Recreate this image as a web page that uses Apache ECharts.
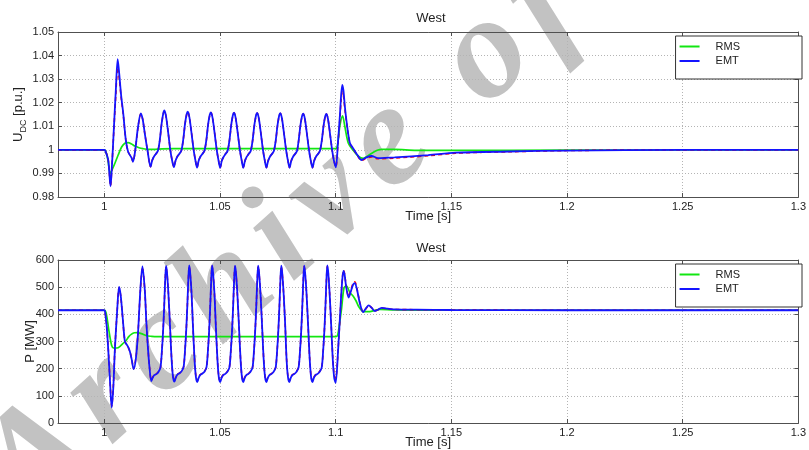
<!DOCTYPE html>
<html><head><meta charset="utf-8">
<script src="https://cdn.jsdelivr.net/npm/echarts@6/dist/echarts.min.js"></script>
<style>html,body{margin:0;padding:0;background:#fff}#c{width:809px;height:450px}</style>
</head><body><div id="c"></div>
<script>
// ---------- data ----------
const timeTicks = [1, 1.05, 1.1, 1.15, 1.2, 1.25, 1.3];
const udcTicksRange = [0.98, 1.05, 0.01];
const pTicksRange = [0, 600, 100];
const legendNames = ['RMS', 'EMT'];
const plotTitle = 'West';
const xName = 'Time [s]';
const watermarkText = 'Archive of SID';

// U_DC [p.u.], EMT (blue)
const udcEMT = [
[0.98,1.0],[1.0,1.0],[1.0004,0.9998],[1.0017,0.9957],[1.0027,0.9845],[1.0033,0.9930],[1.0039,1.0042],[1.0050,1.0255],[1.0058,1.0385],[1.0064,1.0330],[1.0073,1.0230],[1.0082,1.0155],[1.0093,1.0042],[1.0103,0.9992],[1.0118,0.9966],[1.0124,0.9949],[1.0132,0.9985],[1.0146,1.0098],[1.0158,1.0155],[1.0166,1.0130],[1.0175,1.0070],[1.0188,0.9990],[1.0200,0.9928],
[1.0207,0.9955],[1.0215,0.9972],[1.0224,0.9984],[1.0232,0.9996],[1.0240,1.0042],[1.0248,1.0112],[1.0255,1.0155],[1.0260,1.0167],[1.0267,1.0142],[1.0276,1.0075],[1.0285,1.0002],[1.0293,0.9956],[1.0301,0.9927],
[1.0308,0.9954],[1.0316,0.9972],[1.0325,0.9984],[1.0333,0.9996],[1.0341,1.0041],[1.0349,1.0110],[1.0356,1.0151],[1.0361,1.0162],[1.0368,1.0138],[1.0377,1.0072],[1.0386,1.0001],[1.0394,0.9955],[1.0401,0.9925],
[1.0408,0.9954],[1.0416,0.9972],[1.0425,0.9984],[1.0433,0.9996],[1.0441,1.0040],[1.0449,1.0109],[1.0456,1.0149],[1.0461,1.0159],[1.0468,1.0136],[1.0477,1.0071],[1.0486,1.0000],[1.0494,0.9954],[1.0501,0.9924],
[1.0508,0.9954],[1.0516,0.9971],[1.0525,0.9984],[1.0533,0.9995],[1.0541,1.0040],[1.0549,1.0108],[1.0556,1.0148],[1.0561,1.0158],[1.0568,1.0135],[1.0577,1.0070],[1.0586,1.0000],[1.0594,0.9954],[1.0601,0.9924],
[1.0608,0.9953],[1.0616,0.9971],[1.0625,0.9984],[1.0633,0.9995],[1.0641,1.0039],[1.0649,1.0107],[1.0656,1.0147],[1.0661,1.0157],[1.0668,1.0134],[1.0677,1.0069],[1.0686,0.9999],[1.0694,0.9953],[1.0701,0.9924],
[1.0708,0.9953],[1.0716,0.9971],[1.0725,0.9983],[1.0733,0.9995],[1.0741,1.0039],[1.0749,1.0106],[1.0756,1.0146],[1.0761,1.0156],[1.0768,1.0133],[1.0777,1.0068],[1.0786,0.9999],[1.0794,0.9953],[1.0801,0.9924],
[1.0808,0.9953],[1.0816,0.9971],[1.0825,0.9983],[1.0833,0.9995],[1.0840,1.0038],[1.0848,1.0105],[1.0855,1.0144],[1.0860,1.0154],[1.0867,1.0132],[1.0876,1.0067],[1.0885,0.9998],[1.0893,0.9952],[1.0900,0.9924],
[1.0907,0.9953],[1.0915,0.9971],[1.0924,0.9983],[1.0932,0.9995],[1.0940,1.0038],[1.0948,1.0104],[1.0955,1.0143],[1.0960,1.0153],[1.0967,1.0131],[1.0976,1.0066],[1.0985,0.9998],[1.0993,0.9952],[1.1001,0.9926],
[1.1010,1.0030],[1.1019,1.0155],[1.1024,1.0235],[1.1029,1.0276],[1.1034,1.0250],[1.1040,1.0183],[1.1052,1.0084],[1.1062,1.0028],[1.1076,1.0006],[1.1094,0.9978],[1.1112,0.9957],[1.1133,0.9968],[1.1155,0.9974],[1.1183,0.9965],[1.1255,0.9968],[1.1400,0.9978],[1.1520,0.9988],[1.1750,0.9993],[1.2000,0.9997],[1.2500,1.0000],[1.3000,1.0000]
];

// U_DC [p.u.], reference trace (red dashed)
const udcRef = [
[0.98,1.0],[1.0,1.0],[1.0004,0.9998],[1.0017,0.9958],[1.0027,0.9848],[1.0033,0.9930],[1.0039,1.0040],[1.0050,1.0235],[1.0058,1.0350],[1.0064,1.0310],[1.0073,1.0222],[1.0082,1.0150],[1.0093,1.0042],[1.0103,0.9993],[1.0118,0.9966],[1.0124,0.9950],[1.0132,0.9984],[1.0146,1.0095],[1.0158,1.0153],[1.0166,1.0130],[1.0175,1.0071],[1.0188,0.9991],[1.0200,0.9929],
[1.0207,0.9955],[1.0215,0.9973],[1.0224,0.9984],[1.0232,0.9996],[1.0240,1.0040],[1.0248,1.0110],[1.0255,1.0152],[1.0260,1.0165],[1.0267,1.0142],[1.0276,1.0076],[1.0285,1.0003],[1.0293,0.9957],[1.0301,0.9928],
[1.0308,0.9954],[1.0316,0.9972],[1.0325,0.9984],[1.0333,0.9996],[1.0341,1.0040],[1.0349,1.0108],[1.0356,1.0149],[1.0361,1.0161],[1.0368,1.0138],[1.0377,1.0073],[1.0386,1.0002],[1.0394,0.9956],[1.0401,0.9926],
[1.0408,0.9954],[1.0416,0.9972],[1.0425,0.9984],[1.0433,0.9996],[1.0441,1.0039],[1.0449,1.0107],[1.0456,1.0147],[1.0461,1.0158],[1.0468,1.0136],[1.0477,1.0072],[1.0486,1.0001],[1.0494,0.9955],[1.0501,0.9925],
[1.0508,0.9954],[1.0516,0.9971],[1.0525,0.9984],[1.0533,0.9995],[1.0541,1.0039],[1.0549,1.0106],[1.0556,1.0146],[1.0561,1.0157],[1.0568,1.0135],[1.0577,1.0071],[1.0586,1.0001],[1.0594,0.9955],[1.0601,0.9925],
[1.0608,0.9953],[1.0616,0.9971],[1.0625,0.9984],[1.0633,0.9995],[1.0641,1.0038],[1.0649,1.0105],[1.0656,1.0145],[1.0661,1.0156],[1.0668,1.0134],[1.0677,1.0070],[1.0686,1.0000],[1.0694,0.9954],[1.0701,0.9925],
[1.0708,0.9953],[1.0716,0.9971],[1.0725,0.9983],[1.0733,0.9995],[1.0741,1.0038],[1.0749,1.0104],[1.0756,1.0144],[1.0761,1.0155],[1.0768,1.0133],[1.0777,1.0069],[1.0786,1.0000],[1.0794,0.9954],[1.0801,0.9925],
[1.0808,0.9953],[1.0816,0.9971],[1.0825,0.9983],[1.0833,0.9995],[1.0840,1.0037],[1.0848,1.0103],[1.0855,1.0142],[1.0860,1.0153],[1.0867,1.0132],[1.0876,1.0068],[1.0885,0.9999],[1.0893,0.9953],[1.0900,0.9925],
[1.0907,0.9953],[1.0915,0.9971],[1.0924,0.9983],[1.0932,0.9995],[1.0940,1.0037],[1.0948,1.0102],[1.0955,1.0141],[1.0960,1.0152],[1.0967,1.0131],[1.0976,1.0067],[1.0985,0.9999],[1.0993,0.9953],[1.1001,0.9928],
[1.1010,1.0025],[1.1019,1.0140],[1.1024,1.0215],[1.1029,1.0245],[1.1034,1.0228],[1.1040,1.0172],[1.1052,1.0082],[1.1062,1.0027],[1.1076,1.0005],[1.1094,0.9976],[1.1112,0.9955],[1.1133,0.9965],[1.1155,0.9970],[1.1183,0.9962],[1.1255,0.9965],[1.1400,0.9975],[1.1520,0.9986],[1.1750,0.9992],[1.2000,0.9997],[1.2500,1.0000],[1.3000,1.0000]
];

// U_DC [p.u.], RMS (green)
const udcRMS = [
[0.98,1.0],[1.0,1.0],[1.0008,0.9990],[1.0017,0.9950],[1.0025,0.9900],[1.0035,0.9918],[1.0046,0.9943],[1.0060,0.9978],[1.0075,1.0012],[1.0089,1.0028],[1.0103,1.0031],[1.0118,1.0025],[1.0132,1.0016],[1.0150,1.0009],[1.0167,1.0005],[1.0190,1.0002],[1.0210,1.0002],[1.0250,1.0004],[1.0300,1.0005],[1.0500,1.0005],[1.0800,1.0005],[1.1000,1.0005],[1.1008,1.0020],[1.1018,1.0100],[1.1030,1.0144],[1.1040,1.0098],[1.1055,1.0028],[1.1076,0.9998],[1.1097,0.9974],[1.1119,0.9964],[1.1135,0.9972],[1.1155,0.9985],[1.1180,0.9998],[1.1200,1.0002],[1.1255,1.0002],[1.1350,0.9998],[1.1500,0.9998],[1.2000,0.9999],[1.3000,1.0000]
];

// P [MW], EMT (blue)
const pEMT = [
[0.98,415],[1.0,415],[1.0003,412],[1.0010,360],[1.0017,273],[1.0025,150],[1.0032,57],[1.0039,130],[1.0046,273],[1.0056,418],[1.0064,501],[1.0071,470],[1.0079,394],[1.0089,300],[1.0096,290],[1.0103,280],[1.0111,262],[1.0118,236],[1.0127,198],[1.0137,240],[1.0146,333],[1.0156,491],[1.0165,576],[1.0175,491],[1.0182,370],[1.0189,273],[1.0196,200],[1.0203,154],
[1.0209,166],[1.0216,176],[1.0225,180],[1.0234,188],[1.0243,205],[1.0249,265],[1.0254,335],[1.0259,430],[1.0263,520],[1.0267,578],[1.0271,555],[1.0277,480],[1.0284,360],[1.0291,235],[1.0297,170],[1.0303,152],
[1.0309,167],[1.0316,178],[1.0325,183],[1.0334,190],[1.0343,207],[1.0349,268],[1.0354,338],[1.0359,432],[1.0363,522],[1.0367,580],[1.0371,556],[1.0377,482],[1.0383,362],[1.0390,236],[1.0396,170],[1.0402,151],
[1.0408,166],[1.0415,177],[1.0424,182],[1.0433,189],[1.0442,206],[1.0448,266],[1.0453,336],[1.0458,431],[1.0462,521],[1.0466,580],[1.0470,555],[1.0476,481],[1.0482,361],[1.0489,235],[1.0495,169],[1.0501,151],
[1.0507,166],[1.0514,176],[1.0523,181],[1.0532,189],[1.0541,205],[1.0547,266],[1.0552,335],[1.0557,430],[1.0561,520],[1.0565,579],[1.0569,555],[1.0575,480],[1.0582,360],[1.0589,235],[1.0595,169],[1.0601,151],
[1.0607,166],[1.0614,176],[1.0623,181],[1.0632,189],[1.0641,205],[1.0647,265],[1.0652,335],[1.0657,430],[1.0661,520],[1.0665,579],[1.0669,554],[1.0675,480],[1.0682,360],[1.0689,234],[1.0695,169],[1.0701,151],
[1.0707,166],[1.0714,176],[1.0723,181],[1.0732,189],[1.0741,205],[1.0747,265],[1.0752,335],[1.0757,430],[1.0761,520],[1.0765,579],[1.0769,554],[1.0775,480],[1.0782,360],[1.0788,234],[1.0794,169],[1.0800,151],
[1.0806,166],[1.0813,176],[1.0822,181],[1.0831,189],[1.0840,205],[1.0846,265],[1.0851,335],[1.0856,430],[1.0860,520],[1.0864,579],[1.0868,554],[1.0874,480],[1.0881,360],[1.0888,234],[1.0894,169],[1.0900,151],
[1.0906,166],[1.0913,176],[1.0922,181],[1.0931,189],[1.0940,205],[1.0946,265],[1.0951,335],[1.0956,430],[1.0960,521],[1.0964,580],[1.0968,555],[1.0974,478],[1.0981,355],[1.0988,228],[1.0994,165],[1.1000,148],
[1.1011,273],[1.1023,455],[1.1029,530],[1.1034,560],[1.1039,545],[1.1045,505],[1.1056,462],[1.1066,485],[1.1076,510],[1.1083,515],[1.1092,492],[1.1105,440],[1.1119,408],[1.1131,422],[1.1143,433],[1.1156,424],[1.1170,412],[1.1185,418],[1.1200,424],[1.1225,421],[1.1260,418],[1.1350,417],[1.1500,416],[1.2000,415],[1.3000,415]
];

// P [MW], reference trace (red dashed)
const pRef = [
[0.98,415],[1.0,415],[1.0003,412],[1.0010,362],[1.0017,276],[1.0025,155],[1.0032,62],[1.0039,133],[1.0046,275],[1.0056,416],[1.0064,498],[1.0071,468],[1.0079,392],[1.0089,300],[1.0096,290],[1.0103,280],[1.0111,262],[1.0118,238],[1.0127,200],[1.0137,242],[1.0146,333],[1.0156,488],[1.0165,573],[1.0175,490],[1.0182,370],[1.0189,274],[1.0196,203],[1.0203,158],
[1.0209,168],[1.0216,177],[1.0225,181],[1.0234,189],[1.0243,206],[1.0249,265],[1.0254,334],[1.0259,428],[1.0263,517],[1.0267,575],[1.0271,553],[1.0277,480],[1.0284,361],[1.0291,237],[1.0297,172],[1.0303,156],
[1.0309,168],[1.0316,179],[1.0325,184],[1.0334,191],[1.0343,207],[1.0349,267],[1.0354,336],[1.0359,430],[1.0363,519],[1.0367,577],[1.0371,554],[1.0377,481],[1.0383,362],[1.0390,238],[1.0396,172],[1.0402,155],
[1.0408,168],[1.0415,178],[1.0424,183],[1.0433,190],[1.0442,206],[1.0448,265],[1.0453,335],[1.0458,429],[1.0462,518],[1.0466,577],[1.0470,553],[1.0476,480],[1.0482,361],[1.0489,237],[1.0495,171],[1.0501,155],
[1.0507,168],[1.0514,177],[1.0523,182],[1.0532,190],[1.0541,206],[1.0547,265],[1.0552,334],[1.0557,428],[1.0561,517],[1.0565,576],[1.0569,553],[1.0575,479],[1.0582,360],[1.0589,237],[1.0595,171],[1.0601,155],
[1.0607,168],[1.0614,177],[1.0623,182],[1.0632,190],[1.0641,206],[1.0647,264],[1.0652,334],[1.0657,428],[1.0661,517],[1.0665,576],[1.0669,552],[1.0675,479],[1.0682,360],[1.0689,236],[1.0695,171],[1.0701,155],
[1.0707,168],[1.0714,177],[1.0723,182],[1.0732,190],[1.0741,206],[1.0747,264],[1.0752,334],[1.0757,428],[1.0761,517],[1.0765,576],[1.0769,552],[1.0775,479],[1.0782,360],[1.0788,236],[1.0794,171],[1.0800,155],
[1.0806,168],[1.0813,177],[1.0822,182],[1.0831,190],[1.0840,206],[1.0846,264],[1.0851,334],[1.0856,428],[1.0860,517],[1.0864,576],[1.0868,552],[1.0874,479],[1.0881,360],[1.0888,236],[1.0894,171],[1.0900,155],
[1.0906,168],[1.0913,177],[1.0922,182],[1.0931,190],[1.0940,206],[1.0946,264],[1.0951,334],[1.0956,428],[1.0960,518],[1.0964,577],[1.0968,553],[1.0974,478],[1.0981,358],[1.0988,238],[1.0994,175],[1.1000,165],
[1.1011,275],[1.1023,452],[1.1029,530],[1.1034,563],[1.1039,548],[1.1045,508],[1.1056,466],[1.1066,490],[1.1076,515],[1.1083,520],[1.1092,495],[1.1105,442],[1.1119,409],[1.1131,421],[1.1143,432],[1.1156,424],[1.1170,413],[1.1185,418],[1.1200,423],[1.1225,420],[1.1260,418],[1.1350,417],[1.1500,416],[1.2000,415],[1.3000,415]
];

// P [MW], RMS (green)
const pRMS = [
[0.98,415],[1.0,415],[1.0008,405],[1.0020,340],[1.0032,285],[1.0040,276],[1.0055,276],[1.0068,282],[1.0080,292],[1.0094,303],[1.0106,318],[1.0118,327],[1.0130,332],[1.0143,333],[1.0160,329],[1.0183,321],[1.0205,319],[1.0226,318],[1.0500,318],[1.0800,318],[1.1000,318],[1.1008,322],[1.1016,360],[1.1026,424],[1.1036,497],[1.1046,505],[1.1062,480],[1.1076,467],[1.1088,450],[1.1100,428],[1.1120,410],[1.1148,410],[1.1170,415],[1.1192,418],[1.1250,416],[1.1500,415],[1.3000,415]
];

// ---------- chart ----------
const FONT = 'Liberation Sans, Arial, Helvetica, sans-serif';
const AX = '#505050';
const GRID_L = 58, GRID_W = 746, GRID_H = 165;
const TOPS = [32, 260];

function xAxes(gridIndex, withLabels) {
  return {
    type: 'value', gridIndex, min: 0.98, max: 1.3,
    axisLine: { show: true, onZero: false, lineStyle: { color: AX, width: 1 } },
    axisTick: { show: true, inside: true, length: 4, customValues: timeTicks, lineStyle: { color: AX } },
    axisLabel: { show: withLabels, customValues: timeTicks, margin: 4, fontSize: 11, color: '#222', fontFamily: FONT,
                 formatter: v => String(+v.toFixed(2)) },
    splitLine: { show: withLabels, lineStyle: { color: '#b4b4b4', type: [1, 2], width: 1 } }
  };
}

const chart = echarts.init(document.getElementById('c'), null, { renderer: 'canvas' });

const xAxis = [];
const yAxis = [];
const grid = [];
const ranges = [udcTicksRange, pTicksRange];
const yNames = ['{u|U}{s|DC}{u| [p.u.]}', 'P [MW]'];
const yGaps = [29.5, 21.5];

for (let g = 0; g < 2; g++) {
  grid.push({ left: GRID_L, top: TOPS[g], width: GRID_W, height: GRID_H, show: false });
  const bottomX = xAxes(g, true);
  bottomX.position = 'bottom';
  bottomX.name = xName;
  bottomX.nameLocation = 'middle';
  bottomX.nameGap = 13;
  bottomX.nameMoveOverlap = false;
  bottomX.nameTextStyle = { fontSize: 13, color: '#222', fontFamily: FONT };
  xAxis.push(bottomX);
  const topX = xAxes(g, false);
  topX.position = 'top';
  xAxis.push(topX);
  const [mn, mx, iv] = ranges[g];
  yAxis.push({
    type: 'value', gridIndex: g, min: mn, max: mx, interval: iv, position: 'left',
    name: yNames[g], nameLocation: 'middle', nameGap: yGaps[g], nameMoveOverlap: false,
    nameTextStyle: { fontSize: 13, color: '#222', fontFamily: FONT,
      rich: { u: { fontSize: 13, color: '#222', fontFamily: FONT, verticalAlign: 'top', lineHeight: 17 },
              s: { fontSize: 9, color: '#222', fontFamily: FONT, verticalAlign: 'bottom', lineHeight: 17 } } },
    axisLine: { show: true, lineStyle: { color: AX, width: 1 } },
    axisTick: { show: true, inside: true, length: 4, lineStyle: { color: AX } },
    axisLabel: { margin: 4, fontSize: 11, color: '#222', fontFamily: FONT,
                 formatter: v => String(+v.toFixed(2)) },
    splitLine: { show: true, lineStyle: { color: '#b4b4b4', type: [1, 2], width: 1 } }
  });
  yAxis.push({
    type: 'value', gridIndex: g, min: mn, max: mx, interval: iv, position: 'right',
    axisLine: { show: true, lineStyle: { color: AX, width: 1 } },
    axisTick: { show: true, inside: true, length: 4, lineStyle: { color: AX } },
    axisLabel: { show: false }, splitLine: { show: false }
  });
}

function line(name, data, xi, yi, color, width, dashed, z) {
  return {
    name, type: 'line', xAxisIndex: xi, yAxisIndex: yi, data,
    symbol: 'none', smooth: 0.3, z, animation: false,
    lineStyle: { color, width, type: dashed ? [4, 3] : 'solid' },
    itemStyle: { color }
  };
}

const series = [
  line(legendNames[0], udcRMS, 0, 0, '#12e612', 1.7, false, 2),
  line('ref', udcRef, 0, 0, '#ff0000', 1.6, true, 3),
  line(legendNames[1], udcEMT, 0, 0, '#1414ff', 1.8, false, 4),
  line(legendNames[0], pRMS, 2, 2, '#12e612', 1.7, false, 2),
  line('ref', pRef, 2, 2, '#ff0000', 1.6, true, 3),
  line(legendNames[1], pEMT, 2, 2, '#1414ff', 1.8, false, 4)
];

function legendAt(top) {
  return {
    data: legendNames, orient: 'vertical', right: 7, top,
    icon: 'rect', itemWidth: 20, itemHeight: 2, itemGap: 3.5,
    padding: [5, 62, 12.5, 4],
    borderColor: '#333', borderWidth: 1, backgroundColor: '#fff',
    selectedMode: false,
    formatter: n => '{t|' + n + '}',
    textStyle: { fontSize: 11, color: '#222', fontFamily: FONT,
      rich: { t: { fontSize: 11, color: '#222', fontFamily: FONT, padding: [0, 0, 0, 11], lineHeight: 13 } } }
  };
}

// watermark: each character is a rich-text token so it can carry letter spacing
const wmRich = watermarkText.split('').map(ch => '{w|' + ch + '}').join('');

const graphic = [
  { type: 'text', z: -10, x: 411, y: 125, rotation: 42 * Math.PI / 180, silent: true,
    style: { text: wmRich, align: 'center', verticalAlign: 'middle',
             rich: { w: { fontSize: 145, fontStyle: 'italic', fontWeight: 'bold',
                          fontFamily: '"Liberation Serif", "DejaVu Serif", serif', fill: '#c2c2c2',
                          padding: [0, 14, 0, 0], lineHeight: 145 } } } },
  { type: 'text', x: GRID_L + GRID_W / 2, y: 18, z: 10,
    style: { text: plotTitle, font: '13px ' + FONT, fill: '#222', align: 'center', verticalAlign: 'middle' } },
  { type: 'text', x: GRID_L + GRID_W / 2, y: 248, z: 10,
    style: { text: plotTitle, font: '13px ' + FONT, fill: '#222', align: 'center', verticalAlign: 'middle' } }
];

chart.setOption({
  backgroundColor: '#ffffff',
  animation: false,
  grid, xAxis, yAxis, series,
  legend: [legendAt(36), legendAt(264)],
  graphic
});
</script></body></html>
